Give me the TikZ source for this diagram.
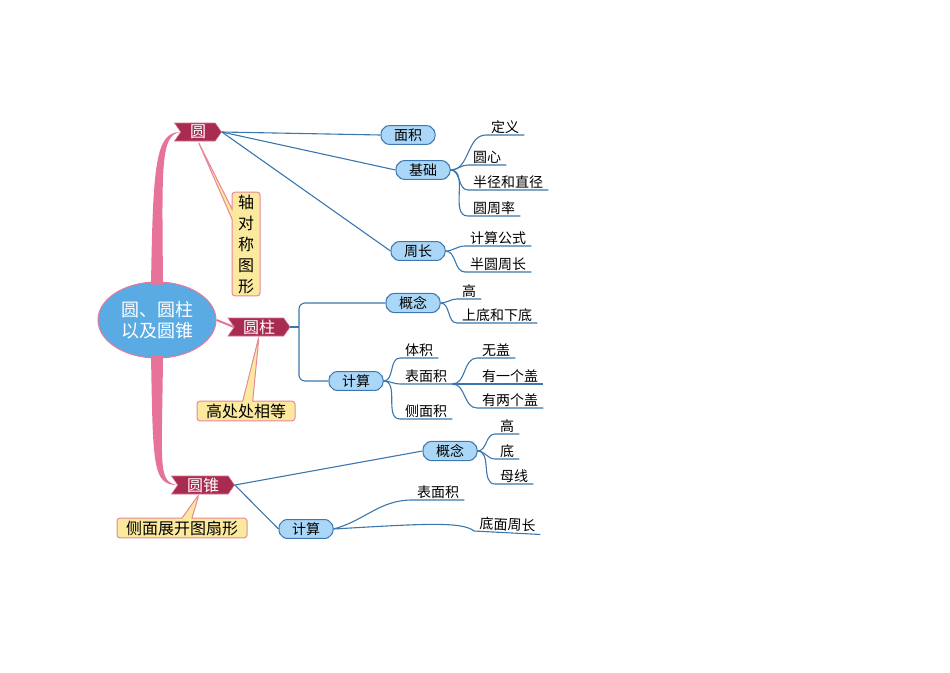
\documentclass[tikz,border=0pt]{standalone}
\usepackage{fontspec}
\setmainfont{Noto Sans CJK SC}
\usepackage{xcolor}
\usetikzlibrary{shapes.symbols,shapes.misc,shapes.callouts,shapes.geometric,calc}

\definecolor{topicred}{HTML}{A82C50}
\definecolor{topicedge}{HTML}{D9718F}
\definecolor{hubblue}{HTML}{5AAAE3}
\definecolor{hubedge}{HTML}{E57A9B}
\definecolor{trunkpink}{HTML}{E8739A}
\definecolor{noteyellow}{HTML}{FBEA9E}
\definecolor{noteedge}{HTML}{E7889B}
\definecolor{subblue}{HTML}{AAD7F7}
\definecolor{subedge}{HTML}{3D78B0}
\definecolor{linkblue}{HTML}{3B76AC}

\begin{document}
\begin{tikzpicture}[
  x=1pt, y=-1pt,
  hub/.style={ellipse, fill=hubblue, draw=hubedge, line width=1pt, text=white,
    minimum width=118pt, minimum height=76pt, inner sep=0pt, align=center,
    font=\fontsize{18}{21}\selectfont},
  topic/.style={signal, signal from=west, signal to=east, signal pointer angle=110,
    fill=topicred, draw=topicedge, line width=0.6pt, text=white,
    minimum height=18pt, inner sep=1pt, font=\fontsize{16}{18}\selectfont},
  sub/.style={chamfered rectangle, chamfered rectangle xsep=2.5pt, chamfered rectangle ysep=3pt,
    rounded corners=2.5pt, fill=subblue, draw=subedge, line width=1pt,
    minimum width=54pt, minimum height=17pt, inner sep=0pt,
    font=\fontsize{14}{16}\selectfont},
  note/.style={rectangle callout, fill=noteyellow, draw=noteedge, line width=1pt,
    rounded corners=3pt, inner xsep=9pt, inner ysep=2.5pt, align=center,
    callout pointer width=10pt, font=\fontsize{16}{21}\selectfont},
  leaf/.style={anchor=south west, inner xsep=5pt, inner ysep=1.5pt,
    font=\fontsize{14}{16}\selectfont},
  branch/.style={draw=linkblue, line width=1.1pt},
  trunk/.style={fill=trunkpink}
]
\useasboundingbox (0,0) rectangle (950,672);

% centre and main topics
\node[hub] (hub) at (157,320) {圆、圆柱\\以及圆锥};
\node[topic, minimum width=47pt] (yuan) at (198,132) {圆};
\node[topic, minimum width=62pt] (yz) at (259,327) {圆柱};
\node[topic, minimum width=63pt] (yzh) at (203,485) {圆锥};

% pink trunk
\fill[trunk] ($(hub.north)+(-6,3)$) .. controls +(2,-120) and +(-25,0) .. (yuan.west)
  .. controls +(-20,3) and +(-1,-120) .. ($(hub.north)+(6,3)$) -- cycle;
\fill[trunk] ($(hub.south)+(-6,-3)$) .. controls +(2,110) and +(-25,0) .. (yzh.west)
  .. controls +(-20,-3) and +(-1,110) .. ($(hub.south)+(6,-3)$) -- cycle;
\draw[trunkpink, line width=2pt] (hub.east) -- (yz.west);

% notes
\node[note, inner xsep=6pt, callout absolute pointer={(yuan.south)}] (zdc) at (246,244) {轴\\对\\称\\图\\形};
\node[note, callout absolute pointer={(yz.south)}] (gcc) at (246,411) {高处处相等};
\node[note, callout absolute pointer={($(yzh.south)+(-4,0)$)}] (cmzk) at (182,528) {侧面展开图扇形};

% 圆
\node[sub] (ms) at (408,135) {面积};
\node[sub] (jc) at (423,170) {基础};
\node[sub] (zc) at (418,251) {周长};
\draw[branch] (yuan.east) -- (ms.west);
\draw[branch] (yuan.east) -- (jc.west);
\draw[branch] (yuan.east) -- (zc.west);

\node[leaf] (dy) at (486,135) {定义};
\node[leaf] (yx) at (468,165) {圆心};
\node[leaf] (bj) at (468,190) {半径和直径};
\node[leaf] (yzl) at (468,216) {圆周率};
\foreach \n in {dy,yx,bj,yzl}
  \draw[branch] (jc.east) to[out=0,in=180] (\n.south west) -- (\n.south east);

\node[leaf] (jsgs) at (465,246) {计算公式};
\node[leaf] (byzc) at (465,272) {半圆周长};
\foreach \n in {jsgs,byzc}
  \draw[branch] (zc.east) to[out=0,in=180] (\n.south west) -- (\n.south east);

% 圆柱
\node[sub] (yzgn) at (413,303) {概念};
\node[sub] (yzjs) at (356,381) {计算};
\coordinate (fork) at (299,327);
\draw[branch] (yz.east) -- (fork);
\draw[branch, rounded corners=6pt] (yzgn.west) -| (fork) |- (yzjs.west);

\node[leaf] (yzg) at (457,299) {高};
\node[leaf] (sdx) at (457,323) {上底和下底};
\foreach \n in {yzg,sdx}
  \draw[branch] (yzgn.east) to[out=0,in=180] (\n.south west) -- (\n.south east);

\node[leaf] (tj) at (400,358) {体积};
\node[leaf] (bmj) at (400,384) {表面积};
\node[leaf] (cmj) at (400,419) {侧面积};
\foreach \n in {tj,bmj,cmj}
  \draw[branch] (yzjs.east) to[out=0,in=180] (\n.south west) -- (\n.south east);

\node[leaf] (wg) at (477,358) {无盖};
\node[leaf] (yyg) at (477,384) {有一个盖};
\node[leaf] (ylg) at (477,408) {有两个盖};
\foreach \n in {wg,yyg,ylg}
  \draw[branch] (bmj.south east) to[out=0,in=180] (\n.south west) -- (\n.south east);

% 圆锥
\node[sub] (zgn) at (450,451) {概念};
\node[sub] (zjs) at (306,529) {计算};
\draw[branch] (yzh.east) -- (zgn.west);
\draw[branch] (yzh.east) -- (zjs.west);

\node[leaf] (zg) at (495,434) {高};
\node[leaf] (zd) at (495,459) {底};
\node[leaf] (mx) at (495,484) {母线};
\foreach \n in {zg,zd,mx}
  \draw[branch] (zgn.east) to[out=0,in=180] (\n.south west) -- (\n.south east);

\node[leaf] (zbmj) at (412,500) {表面积};
\draw[branch] (zjs.east) to[out=15,in=180] (zbmj.south west) -- (zbmj.south east);
\node[leaf, rotate=-3] (dmzc) at (474,531) {底面周长};
\draw[branch] (zjs.east) .. controls (420,524) and (462,521) .. (dmzc.south west) -- (dmzc.south east);
\end{tikzpicture}
\end{document}
